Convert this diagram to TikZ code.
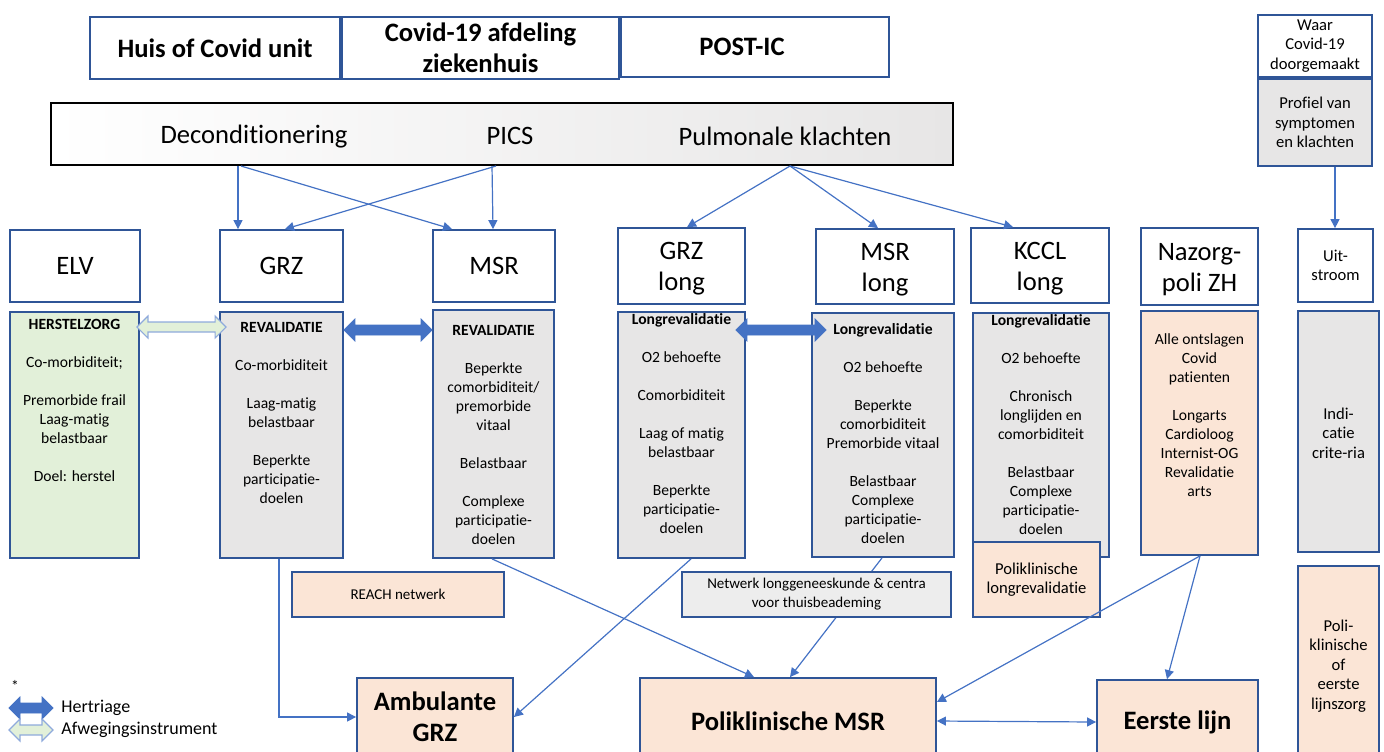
\documentclass[tikz,border=0pt]{standalone}
\usepackage{fontspec}
\setmainfont{Carlito}[Ligatures=NoCommon]
\usetikzlibrary{fit,calc,arrows.meta}

\definecolor{rand}{HTML}{2F5597}
\definecolor{lijn}{HTML}{4472C4}
\definecolor{grijs}{HTML}{E7E6E6}
\definecolor{groen}{HTML}{E2F0D9}
\definecolor{zalm}{HTML}{FBE5D6}
\definecolor{lichtgrijs}{HTML}{EDEDED}

\newcommand{\groot}{\fontsize{13.3}{15.5}\selectfont}
\newcommand{\klein}{\fontsize{7.8}{9.5}\selectfont}
\newcommand{\middel}{\fontsize{8.3}{9.75}\selectfont}

% dikke pijl met twee koppen, tussen twee punten op gelijke hoogte
\newcommand{\dikpijl}[3]{%
  \draw[#1] (#2) -- ++(11,11) -- ++(0,-6) -- ($(#3)+(-11,5)$) -- ++(0,6) -- (#3)
    -- ++(-11,-11) -- ++(0,6) -- ($(#2)+(11,-5)$) -- ++(0,-6) -- cycle;}

\tikzset{
  vak/.style={draw=rand, line width=0.9pt, inner sep=0pt},
  tekst/.style={inner sep=0pt, align=center, font=\klein},
  koptekst/.style={tekst, font=\groot\bfseries},
  kolomtekst/.style={tekst, font=\groot},
  middeltekst/.style={tekst, font=\middel},
  netwerktekst/.style={tekst, font=\fontsize{7.5}{9.5}\selectfont},
  pijl/.style={draw=lijn, line width=0.6pt, -{Triangle[length=4.5pt,width=4.5pt]}},
  tweepijl/.style={draw=lijn, line width=0.6pt, {Triangle[length=4.5pt,width=4.5pt]}-{Triangle[length=4.5pt,width=4.5pt]}},
  hertriage/.style={fill=lijn, draw=lijn, line width=0.4pt},
  afweging/.style={fill=groen, draw=lijn!60, line width=0.6pt}
}

\begin{document}
\begin{tikzpicture}[x=0.5pt, y=-0.5pt]
\useasboundingbox (0,0) rectangle (1384,751);
\clip (0,0) rectangle (1384,751);

% bovenste rij
\node[vak, fit={(90,17) (340,79)}] (huis) {};
\node[koptekst] (huist) at (huis) {Huis of Covid unit};
\node[vak, fit={(342,17) (619,79)}] (afdeling) {};
\node[koptekst] (afdelingt) at (afdeling) {Covid-19 afdeling\\ziekenhuis};
\node[vak, fit={(621,17) (889,77)}] (postic) {};
\node[koptekst, xshift=-6.5pt] (postict) at (postic) {POST-IC};
\node[vak, fit={(1258,15) (1372,77)}] (waar) {};
\node[middeltekst] (waart) at (waar) {Waar\\Covid-19\\doorgemaakt};
\node[vak, fill=grijs, fit={(1258,79) (1372,166)}] (profiel) {};
\node[middeltekst] (profielt) at (profiel) {Profiel van\\symptomen\\en klachten};

\node[draw=black, line width=1pt, left color=white, right color=grijs, inner sep=0pt,
  fit={(51,103) (953,165)}] (kader) {};
\node[kolomtekst] (decond) at (254,137) {Deconditionering};
\node[kolomtekst] (pics) at (510,136) {PICS};
\node[kolomtekst] (pulm) at (785,136) {Pulmonale klachten};

% kolomkoppen
\node[vak, fit={(10,230) (140,302)}] (elv) {};
\node[kolomtekst] (elvk) at (elv) {ELV};
\node[vak, fit={(220,230) (343,302)}] (grz) {};
\node[kolomtekst] (grzk) at (grz) {GRZ};
\node[vak, fit={(433,230) (555,302)}] (msr) {};
\node[kolomtekst] (msrk) at (msr) {MSR};
\node[vak, fit={(618,228) (745,304)}] (grzl) {};
\node[kolomtekst, yshift=-1.5pt] (grzlk) at (grzl) {GRZ\\long};
\node[vak, fit={(816,229) (954,304)}] (msrl) {};
\node[kolomtekst, yshift=-1.5pt] (msrlk) at (msrl) {MSR\\long};
\node[vak, fit={(971,228) (1109,303)}] (kccl) {};
\node[kolomtekst, yshift=-1.5pt] (kcclk) at (kccl) {KCCL\\long};
\node[vak, fit={(1141,228) (1258,305)}] (nazorg) {};
\node[kolomtekst, yshift=-1.5pt] (nazorgk) at (nazorg) {Nazorg-\\poli ZH};
\node[vak, fit={(1298,229) (1373,302)}] (uit) {};
\node[middeltekst] (uitk) at (uit) {Uit-\\stroom};

% kolommen
\node[vak, fill=groen, fit={(10,312) (139,558)}] (elvd) {};
\node[vak, fill=grijs, fit={(220,312) (343,558)}] (grzd) {};
\node[vak, fill=grijs, fit={(433,310) (554,558)}] (msrd) {};
\node[vak, fill=grijs, fit={(618,312) (745,558)}] (grzld) {};
\node[vak, fill=grijs, fit={(812,313) (954,557)}] (msrld) {};
\node[vak, fill=grijs, fit={(973,313) (1109,557)}] (kccld) {};
\node[vak, fill=zalm, fit={(1141,311) (1258,555)}] (nazd) {};
\node[vak, fill=grijs, fit={(1298,311) (1379,552)}] (indi) {};
\node[middeltekst] (indit) at (1338.5,433) {Indi-\\catie\\crite-ria};
\node[vak, fill=zalm, fit={(1298,566) (1379,770)}] (poli) {};

\node[tekst] (elvt) at (74.5,400) {\textbf{HERSTELZORG}\\[9.5pt] Co-morbiditeit;\\[9.5pt] Premorbide frail\\Laag-matig\\belastbaar\\[9.5pt] Doel: herstel};
\node[tekst] (grzt) at (281.5,412.5) {\textbf{REVALIDATIE}\\[9.5pt] Co-morbiditeit\\[9.5pt] Laag-matig\\belastbaar\\[9.5pt] Beperkte\\participatie-\\doelen};
\node[tekst] (msrt) at (493.5,434.5) {\textbf{REVALIDATIE}\\[9.5pt] Beperkte\\comorbiditeit/\\premorbide\\vitaal\\[9.5pt] Belastbaar\\[9.5pt] Complexe\\participatie-\\doelen};
\node[tekst] (grzlt) at (681.5,424) {\textbf{Longrevalidatie}\\[9.5pt] O2 behoefte\\[9.5pt] Comorbiditeit\\[9.5pt] Laag of matig\\belastbaar\\[9.5pt] Beperkte\\participatie-\\doelen};
\node[tekst] (msrlt) at (883,434) {\textbf{Longrevalidatie}\\[9.5pt] O2 behoefte\\[9.5pt] Beperkte\\comorbiditeit\\Premorbide vitaal\\[9.5pt] Belastbaar\\Complexe\\participatie-\\doelen};
\node[tekst] (kcclt) at (1041,424.5) {\textbf{Longrevalidatie}\\[9.5pt] O2 behoefte\\[9.5pt] Chronisch\\longlijden en\\comorbiditeit\\[9.5pt] Belastbaar\\Complexe\\participatie-\\doelen};
\node[tekst] (nazt) at (1199.5,415) {Alle ontslagen\\Covid\\patienten\\[9.5pt] Longarts\\Cardioloog\\Internist-OG\\Revalidatie\\arts};
\node[middeltekst] (polit) at (1338.5,666) {Poli-\\klinische\\of\\eerste\\lijnszorg};

\node[vak, fill=zalm, fit={(973,542) (1100,617)}] (plrev) {};
\node[middeltekst] (plrevt) at (plrev) {Poliklinische\\longrevalidatie};
\node[vak, fill=zalm, fit={(292,572) (504,617)}] (reach) {};
\node[netwerktekst] (reacht) at (reach) {REACH netwerk};

% onderste rij
\node[vak, fill=zalm, fit={(357,678) (513,756)}] (amb) {};
\node[koptekst] (ambt) at (amb) {Ambulante\\GRZ};
\node[vak, fill=zalm, fit={(640,678) (936,764)}] (polmsr) {};
\node[koptekst] (polmsrt) at (polmsr) {Poliklinische MSR};
\node[vak, fill=zalm, fit={(1097,680) (1258,764)}] (eerste) {};
\node[koptekst] (eerstet) at (eerste) {Eerste lijn};

% pijlen
\draw[pijl] (238,0 |- kader.south) -- (238,0 |- grz.north);
\draw[pijl] (241,0 |- kader.south) -- (452,0 |- msr.north);
\draw[pijl] (496,0 |- kader.south) -- (285,0 |- grz.north);
\draw[pijl] (492,0 |- kader.south) -- (493,0 |- msr.north);
\draw[pijl] (790,0 |- kader.south) -- (687,0 |- grzl.north);
\draw[pijl] (790,0 |- kader.south) -- (878,0 |- msrl.north);
\draw[pijl] (790,0 |- kader.south) -- (1013,0 |- kccl.north);
\draw[pijl] (1335,0 |- profiel.south) -- (1335,0 |- uit.north);

\draw[pijl] (279,0 |- grzd.south) |- (amb.west);
\draw[pijl] (492,0 |- msrd.south) -- (754,0 |- polmsr.north);
\draw[pijl] (691,0 |- grzld.south) -- (amb.east);
\draw[pijl] (882,0 |- msrld.south) -- (790,0 |- polmsr.north);
\draw[pijl] (1200,0 |- nazd.south) -- (1167,0 |- eerste.north);
\draw[pijl] (1200,0 |- nazd.south) -- (polmsr.east |- 0,702);
\draw[tweepijl] (polmsr.east) -- (eerste.west);

\node[vak, fill=lichtgrijs, fit={(682,572) (951,617)}] (netwerk) {};
\node[netwerktekst] (netwerkt) at (netwerk) {Netwerk longgeneeskunde \& centra\\voor thuisbeademing};

% hertriage en afweging
\coordinate (afw1) at ($(elvd.east |- 0,327)+(-3,0)$);
\coordinate (afw2) at ($(grzd.west |- 0,327)+(7,0)$);
\coordinate (her1) at (grzd.east |- 0,330);
\coordinate (her2) at (msrd.west |- 0,330);
\coordinate (her3) at ($(grzld.east |- 0,330)+(-10,0)$);
\coordinate (her4) at ($(msrld.west |- 0,330)+(15,0)$);
\dikpijl{afweging}{afw1}{afw2}
\dikpijl{hertriage}{her1}{her2}
\dikpijl{hertriage}{her3}{her4}

% legenda
\node[font=\klein] (ster) at (15,686) {*};
\coordinate (lega) at (9,708);
\coordinate (legb) at (53,708);
\coordinate (legc) at (9,730);
\coordinate (legd) at (53,730);
\dikpijl{hertriage}{lega}{legb}
\dikpijl{afweging}{legc}{legd}
\node[anchor=west, font=\fontsize{9}{11}\selectfont, inner sep=0pt] (hertr) at (61,708) {Hertriage};
\node[anchor=west, font=\fontsize{9}{11}\selectfont, inner sep=0pt] (afweg) at (61,730) {Afwegingsinstrument};
\end{tikzpicture}
\end{document}
